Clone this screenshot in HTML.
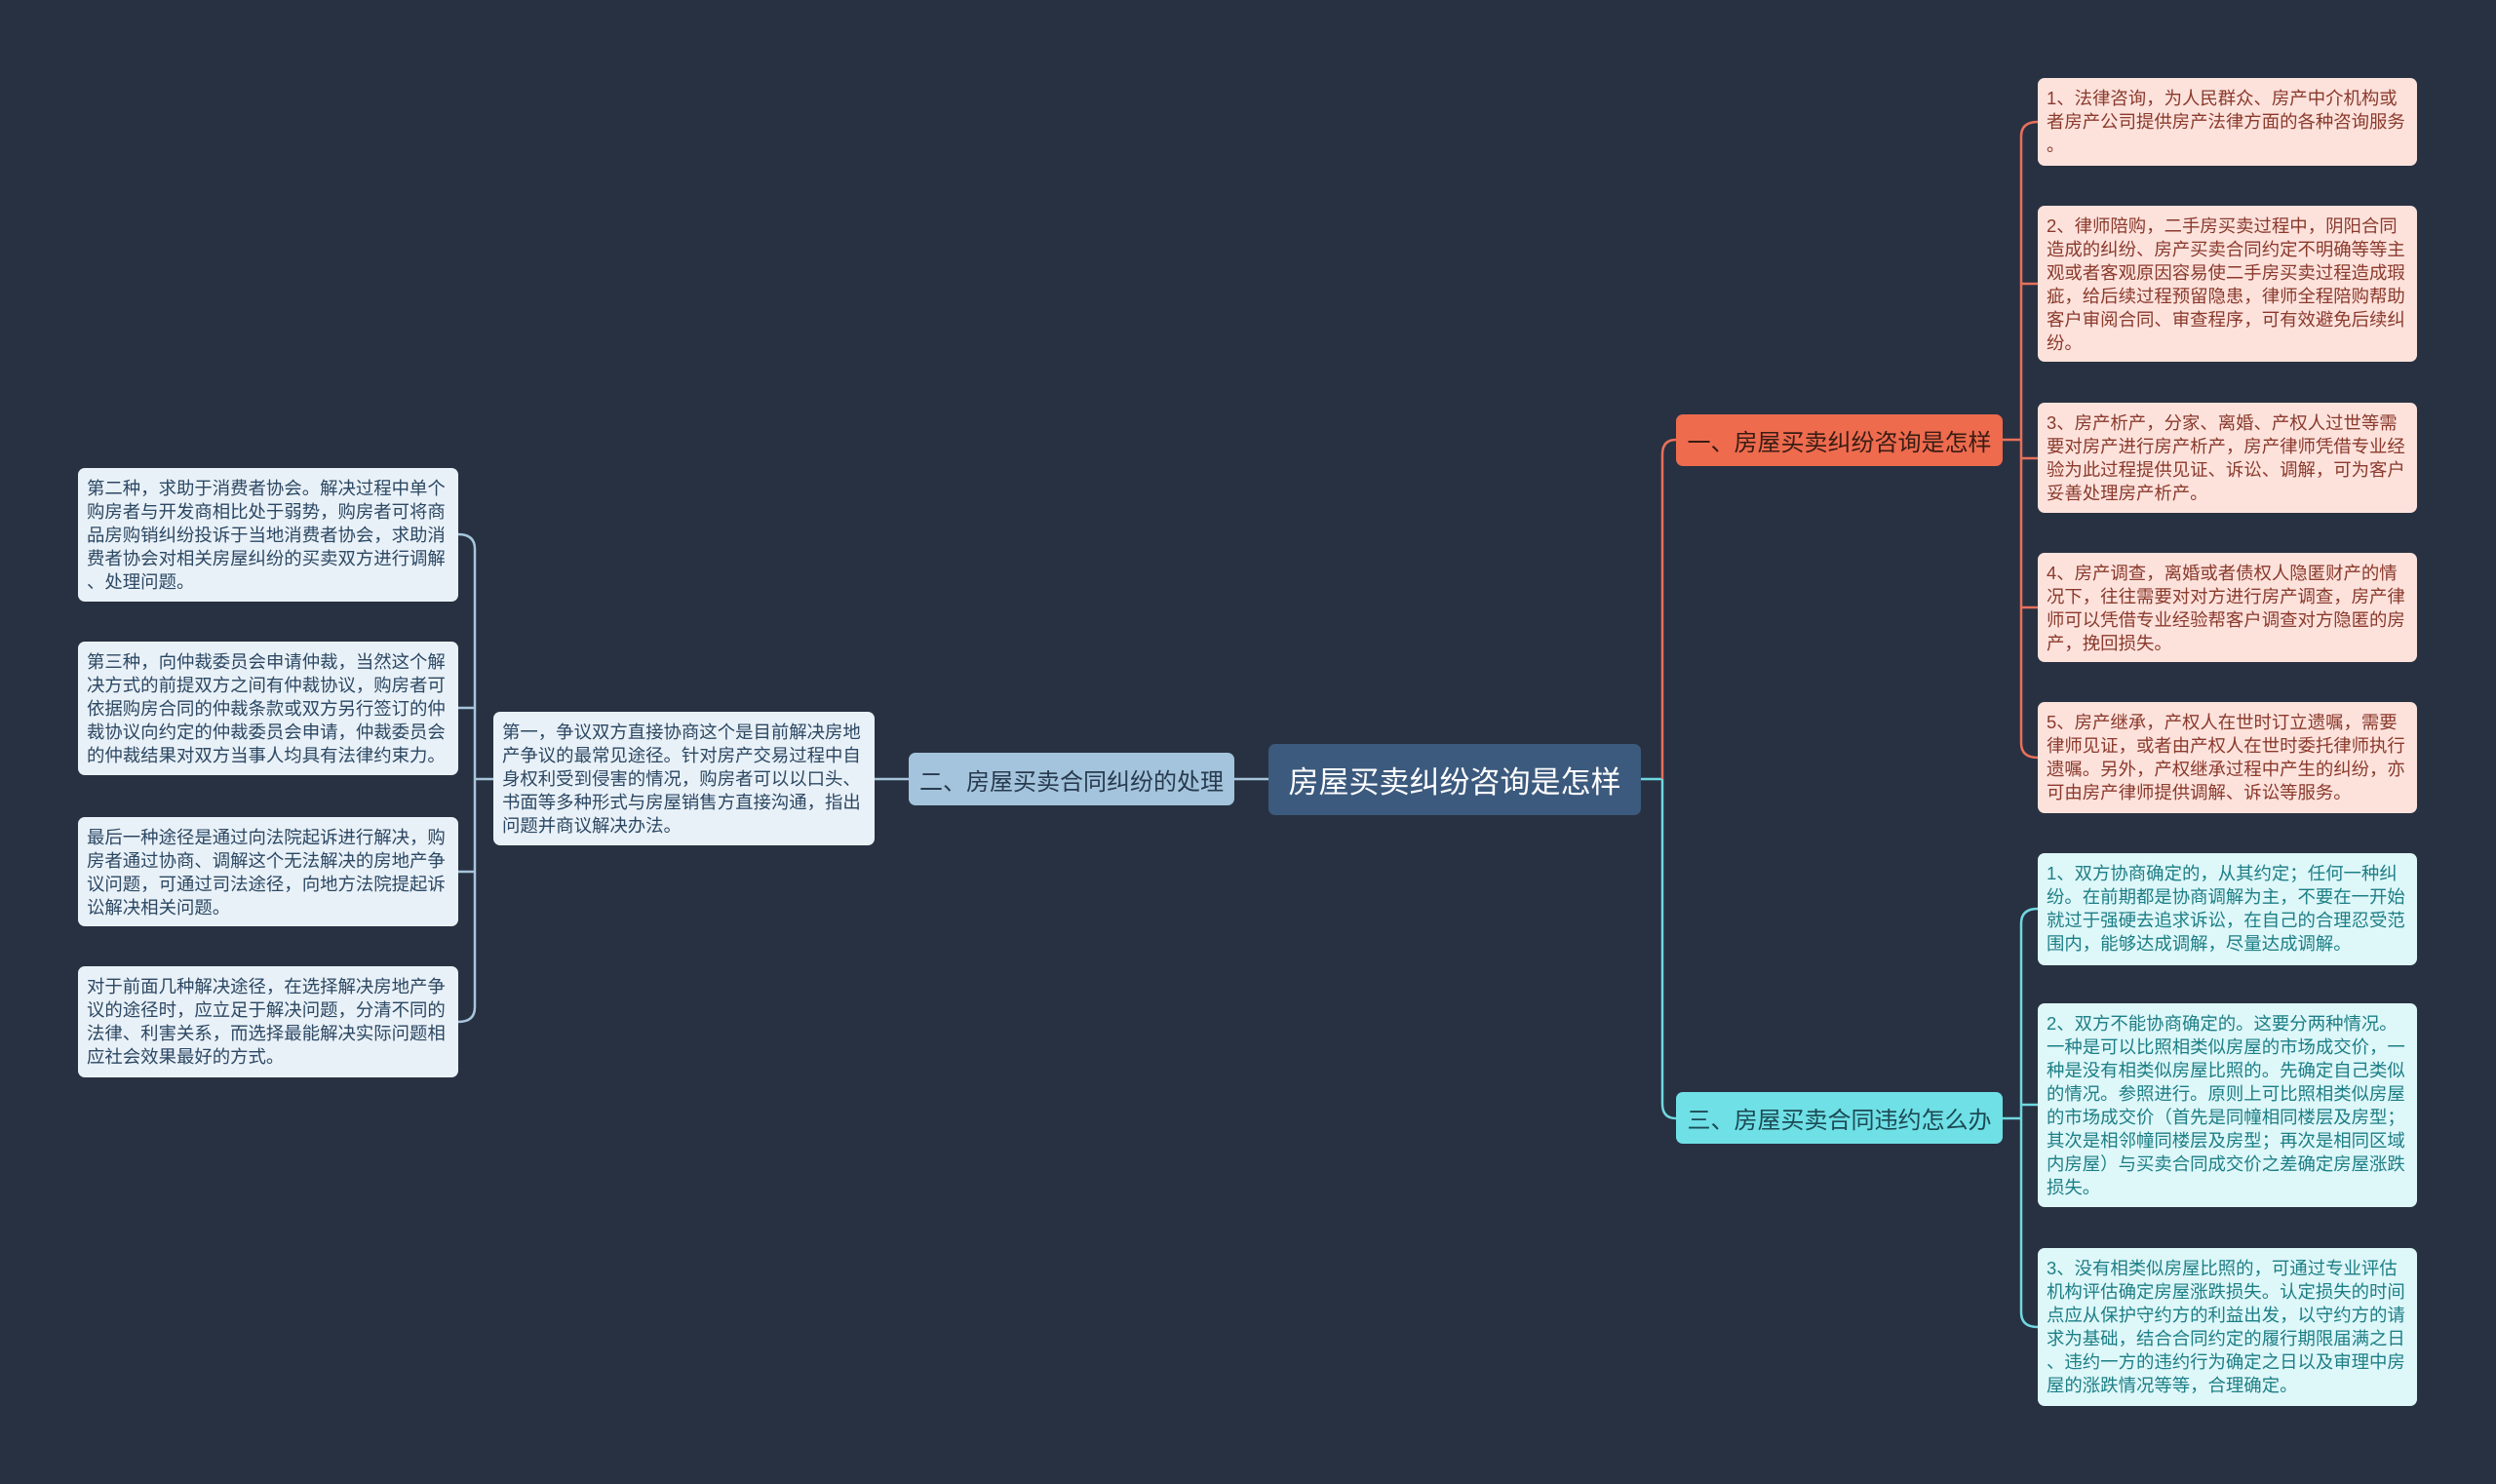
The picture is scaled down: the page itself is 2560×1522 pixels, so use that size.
<!DOCTYPE html>
<html><head><meta charset="utf-8"><style>
html,body{margin:0;padding:0}
body{width:2560px;height:1522px;background:#283141;position:relative;overflow:hidden;font-family:"Liberation Sans","Noto Sans CJK SC",sans-serif}
.b{position:absolute;box-sizing:border-box;border-radius:7px;white-space:nowrap}
.leaf{font-size:18.4px;line-height:24px;padding:9px 9px}
.o{background:#fde2dc;color:#8a3a2c}
.c{background:#def7f9;color:#1d7f86}
.l{background:#e9f1f8;color:#2c4863}
.br{font-size:24px;display:flex;align-items:center;justify-content:center}
</style></head><body>
<svg width="2560" height="1522" style="position:absolute;left:0;top:0" fill="none" stroke-width="2.5">
<path d="M1683 799 H1705" stroke="#6fd8e0"/>
<path d="M1705 799 V466 Q1705 451 1719 451" stroke="#e8705a"/>
<path d="M1705 799 V1132 Q1705 1147 1719 1147" stroke="#6fd8e0"/>
<path d="M1301 799 H1266" stroke="#a6c6dc"/>
<path d="M2054 451 H2073" stroke="#e8705a"/>
<path d="M2090 125 Q2073 125 2073 140 V762 Q2073 777 2090 777" stroke="#e8705a"/>
<path d="M2073 291 H2090 M2073 470 H2090 M2073 623 H2090" stroke="#e8705a"/>
<path d="M2054 1147 H2073" stroke="#6fd8e0"/>
<path d="M2090 932 Q2073 932 2073 947 V1346 Q2073 1361 2090 1361" stroke="#6fd8e0"/>
<path d="M2073 1133 H2090" stroke="#6fd8e0"/>
<path d="M932 799 H897" stroke="#a6c6dc"/>
<path d="M506 799 H487" stroke="#a6c6dc"/>
<path d="M470 548 Q487 548 487 563 V1033 Q487 1048 470 1048" stroke="#a6c6dc"/>
<path d="M470 726 H487 M470 894 H487" stroke="#a6c6dc"/>
</svg>

<div class="b br" style="left:1301px;top:763px;width:382px;height:73px;background:#3c5a7e;color:#fff;font-size:31px">房屋买卖纠纷咨询是怎样</div>
<div class="b br" style="left:932px;top:772px;width:334px;height:54px;background:#a3c4dc;color:#283a4e">二、房屋买卖合同纠纷的处理</div>
<div class="b br" style="left:1719px;top:425px;width:335px;height:53px;background:#ee6b4e;color:#3a1c14">一、房屋买卖纠纷咨询是怎样</div>
<div class="b br" style="left:1719px;top:1120px;width:335px;height:53px;background:#6ee0e6;color:#1c4a55">三、房屋买卖合同违约怎么办</div>

<div class="b leaf o" style="left:2090px;top:80px;width:389px;height:90px"> 1、法律咨询，为人民群众、房产中介机构或<br>者房产公司提供房产法律方面的各种咨询服务<br>。</div>
<div class="b leaf o" style="left:2090px;top:211px;width:389px;height:160px"> 2、律师陪购，二手房买卖过程中，阴阳合同<br>造成的纠纷、房产买卖合同约定不明确等等主<br>观或者客观原因容易使二手房买卖过程造成瑕<br>疵，给后续过程预留隐患，律师全程陪购帮助<br>客户审阅合同、审查程序，可有效避免后续纠<br>纷。</div>
<div class="b leaf o" style="left:2090px;top:413px;width:389px;height:113px"> 3、房产析产，分家、离婚、产权人过世等需<br>要对房产进行房产析产，房产律师凭借专业经<br>验为此过程提供见证、诉讼、调解，可为客户<br>妥善处理房产析产。</div>
<div class="b leaf o" style="left:2090px;top:567px;width:389px;height:112px"> 4、房产调查，离婚或者债权人隐匿财产的情<br>况下，往往需要对对方进行房产调查，房产律<br>师可以凭借专业经验帮客户调查对方隐匿的房<br>产，挽回损失。</div>
<div class="b leaf o" style="left:2090px;top:720px;width:389px;height:114px"> 5、房产继承，产权人在世时订立遗嘱，需要<br>律师见证，或者由产权人在世时委托律师执行<br>遗嘱。另外，产权继承过程中产生的纠纷，亦<br>可由房产律师提供调解、诉讼等服务。</div>

<div class="b leaf c" style="left:2090px;top:875px;width:389px;height:115px"> 1、双方协商确定的，从其约定；任何一种纠<br>纷。在前期都是协商调解为主，不要在一开始<br>就过于强硬去追求诉讼，在自己的合理忍受范<br>围内，能够达成调解，尽量达成调解。</div>
<div class="b leaf c" style="left:2090px;top:1029px;width:389px;height:209px"> 2、双方不能协商确定的。这要分两种情况。<br>一种是可以比照相类似房屋的市场成交价，一<br>种是没有相类似房屋比照的。先确定自己类似<br>的情况。参照进行。原则上可比照相类似房屋<br>的市场成交价（首先是同幢相同楼层及房型；<br>其次是相邻幢同楼层及房型；再次是相同区域<br>内房屋）与买卖合同成交价之差确定房屋涨跌<br>损失。</div>
<div class="b leaf c" style="left:2090px;top:1280px;width:389px;height:162px"> 3、没有相类似房屋比照的，可通过专业评估<br>机构评估确定房屋涨跌损失。认定损失的时间<br>点应从保护守约方的利益出发，以守约方的请<br>求为基础，结合合同约定的履行期限届满之日<br>、违约一方的违约行为确定之日以及审理中房<br>屋的涨跌情况等等，合理确定。</div>

<div class="b leaf l" style="left:506px;top:730px;width:391px;height:137px">第一，争议双方直接协商这个是目前解决房地<br>产争议的最常见途径。针对房产交易过程中自<br>身权利受到侵害的情况，购房者可以以口头、<br>书面等多种形式与房屋销售方直接沟通，指出<br>问题并商议解决办法。</div>

<div class="b leaf l" style="left:80px;top:480px;width:390px;height:137px">第二种，求助于消费者协会。解决过程中单个<br>购房者与开发商相比处于弱势，购房者可将商<br>品房购销纠纷投诉于当地消费者协会，求助消<br>费者协会对相关房屋纠纷的买卖双方进行调解<br>、处理问题。</div>
<div class="b leaf l" style="left:80px;top:658px;width:390px;height:137px">第三种，向仲裁委员会申请仲裁，当然这个解<br>决方式的前提双方之间有仲裁协议，购房者可<br>依据购房合同的仲裁条款或双方另行签订的仲<br>裁协议向约定的仲裁委员会申请，仲裁委员会<br>的仲裁结果对双方当事人均具有法律约束力。</div>
<div class="b leaf l" style="left:80px;top:838px;width:390px;height:112px">最后一种途径是通过向法院起诉进行解决，购<br>房者通过协商、调解这个无法解决的房地产争<br>议问题，可通过司法途径，向地方法院提起诉<br>讼解决相关问题。</div>
<div class="b leaf l" style="left:80px;top:991px;width:390px;height:114px">对于前面几种解决途径，在选择解决房地产争<br>议的途径时，应立足于解决问题，分清不同的<br>法律、利害关系，而选择最能解决实际问题相<br>应社会效果最好的方式。</div>
</body></html>
